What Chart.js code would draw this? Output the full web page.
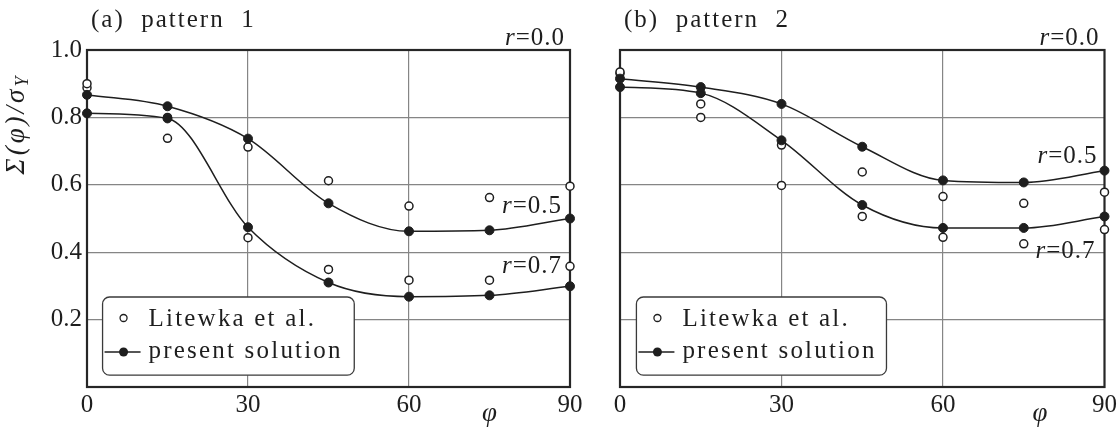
<!DOCTYPE html>
<html>

<head>
    <meta charset="utf-8">
    <title>Sigma(phi) / sigma Y - pattern 1 and pattern 2</title>
    <style>
        body { margin: 0; background: #fff; }
        .panel { position: absolute; top: 0; }
    </style>
</head>

<body>
    <div class="panel" style="left:0"><canvas id="chartA" width="590" height="430"></canvas></div>
    <div class="panel" style="left:590px"><canvas id="chartB" width="530" height="430"></canvas></div>
    <script src="https://cdn.jsdelivr.net/npm/chart.js@4.4.6/dist/chart.umd.min.js"></script>
    <script>
        // angle phi (deg) at which both data sets are given
        const angles = [0, 15, 30, 45, 60, 75, 90]

        // (a) pattern 1
        const aPresent05 = [0.867, 0.833, 0.737, 0.545, 0.462, 0.465, 0.500]
        const aPresent07 = [0.812, 0.797, 0.474, 0.310, 0.268, 0.272, 0.299]
        const aLitewka05 = [0.900, 0.800, 0.712, 0.612, 0.537, 0.562, 0.596]
        const aLitewka07 = [0.888, 0.738, 0.443, 0.349, 0.317, 0.317, 0.358]

        // (b) pattern 2
        const bPresent05 = [0.915, 0.890, 0.840, 0.713, 0.613, 0.607, 0.642]
        const bPresent07 = [0.890, 0.872, 0.732, 0.540, 0.472, 0.472, 0.506]
        const bLitewka05 = [0.935, 0.840, 0.718, 0.638, 0.565, 0.545, 0.578]
        const bLitewka07 = [0.930, 0.800, 0.598, 0.506, 0.444, 0.425, 0.467]

        const xTicks = [0, 30, 60, 90]
        const yTicks = [0, 0.2, 0.4, 0.6, 0.8, 1.0]
        const yLabels = ["", "0.2", "0.4", "0.6", "0.8", "1.0"]
        const legendLabels = ["Litewka et al.", "present solution"]

        const INK = "#1e1e1e"
        const GRID = "#858585"
        const SERIF = "'Liberation Serif', 'DejaVu Serif', serif"

        const pts = arr => angles.map((a, i) => ({ x: a, y: arr[i] }))

        function solution(arr) {
            return {
                label: legendLabels[1],
                data: pts(arr),
                showLine: true,
                borderColor: INK,
                borderWidth: 1.5,
                cubicInterpolationMode: "monotone",
                pointRadius: 4.5,
                pointBackgroundColor: INK,
                pointBorderColor: INK,
                pointBorderWidth: 1,
                clip: false,
            }
        }

        function litewka(arr) {
            return {
                label: legendLabels[0],
                data: pts(arr),
                showLine: false,
                pointRadius: 4,
                pointBackgroundColor: "#fff",
                pointBorderColor: INK,
                pointBorderWidth: 1.5,
                clip: false,
            }
        }

        // draws the frame, legend box and the text notes of one panel
        const decor = {
            id: "decor",
            beforeDatasetsDraw(chart) {
                const { ctx, chartArea: ca } = chart
                ctx.save()
                ctx.strokeStyle = "#262626"
                ctx.lineWidth = 2.2
                ctx.strokeRect(ca.left, ca.top, ca.right - ca.left, ca.bottom - ca.top)
                ctx.restore()
            },
            afterDatasetsDraw(chart, args, opts) {
                const { ctx, chartArea: ca } = chart
                const x = chart.scales.x
                const y = chart.scales.y
                ctx.save()
                ctx.fillStyle = INK
                ctx.strokeStyle = INK

                // legend
                const bx0 = x.getPixelForValue(opts.legendBox[0])
                const bx1 = x.getPixelForValue(opts.legendBox[1])
                const by0 = y.getPixelForValue(opts.legendBox[2])
                const by1 = y.getPixelForValue(opts.legendBox[3])
                ctx.beginPath()
                ctx.roundRect(bx0, by0, bx1 - bx0, by1 - by0, 7)
                ctx.fillStyle = "#fff"
                ctx.fill()
                ctx.lineWidth = 1.3
                ctx.strokeStyle = "#3a3a3a"
                ctx.stroke()
                const r1 = by0 + 21
                const r2 = by0 + 55
                ctx.beginPath()
                ctx.arc(bx0 + 21, r1, 3.5, 0, Math.PI * 2)
                ctx.fillStyle = "#fff"
                ctx.fill()
                ctx.strokeStyle = INK
                ctx.lineWidth = 1.3
                ctx.stroke()
                ctx.beginPath()
                ctx.moveTo(bx0 + 2, r2)
                ctx.lineTo(bx0 + 38, r2)
                ctx.lineWidth = 1.4
                ctx.stroke()
                ctx.beginPath()
                ctx.arc(bx0 + 21, r2, 4.5, 0, Math.PI * 2)
                ctx.fillStyle = INK
                ctx.fill()
                ctx.font = "25px " + SERIF
                ctx.letterSpacing = "2.2px"
                ctx.textBaseline = "alphabetic"
                ctx.textAlign = "left"
                ctx.fillText(legendLabels[0], bx0 + 46, r1 + 8)
                ctx.fillText(legendLabels[1], bx0 + 46, r2 + 6)

                // panel title
                ctx.font = "25px " + SERIF
                ctx.letterSpacing = "2px"
                ctx.fillText(opts.title, ca.left + 4, 27)

                // r = ... notes, right aligned near the right frame
                ctx.letterSpacing = "1px"
                opts.notes.forEach(n => {
                    ctx.font = "italic 25px " + SERIF
                    const w1 = ctx.measureText("r").width
                    ctx.font = "25px " + SERIF
                    const w2 = ctx.measureText(n.text).width
                    const xr = ca.right - n.dx
                    const yb = y.getPixelForValue(n.y)
                    ctx.font = "italic 25px " + SERIF
                    ctx.fillText("r", xr - w1 - w2, yb)
                    ctx.font = "25px " + SERIF
                    ctx.fillText(n.text, xr - w2, yb)
                })

                // phi axis label
                ctx.letterSpacing = "0px"
                ctx.font = "italic 27px " + SERIF
                ctx.textAlign = "center"
                ctx.textBaseline = "middle"
                ctx.fillText("φ", x.getPixelForValue(opts.phiAt), 414)

                // y axis title
                if (opts.yTitle) {
                    ctx.translate(17, 124)
                    ctx.rotate(-Math.PI / 2)
                    ctx.textAlign = "left"
                    ctx.letterSpacing = "3px"
                    ctx.font = "italic 27px " + SERIF
                    const main = "Σ(φ)/σ"
                    const wm = ctx.measureText(main).width
                    ctx.font = "italic 18px " + SERIF
                    const ws = ctx.measureText("Y").width
                    const x0 = -(wm + ws) / 2
                    ctx.font = "italic 27px " + SERIF
                    ctx.fillText(main, x0, 0)
                    ctx.font = "italic 18px " + SERIF
                    ctx.fillText("Y", x0 + wm, 6)
                }
                ctx.restore()
            },
        }

        function makeOptions(withLabels, padRight, yWidth, deco) {
            return {
                responsive: false,
                animation: false,
                layout: { padding: { left: 0, top: 50, right: padRight, bottom: 0 } },
                plugins: {
                    legend: { display: false },
                    tooltip: { enabled: false },
                    decor: deco,
                },
                scales: {
                    x: {
                        type: "linear",
                        min: 0,
                        max: 90,
                        afterBuildTicks: s => { s.ticks = xTicks.map(v => ({ value: v })) },
                        afterFit: s => { s.height = 43 },
                        border: { display: false },
                        grid: {
                            drawTicks: false,
                            lineWidth: 1.2,
                            color: c => (c.tick.value === 0 || c.tick.value === 90) ? "rgba(0,0,0,0)" : GRID,
                        },
                        ticks: {
                            padding: 3,
                            color: INK,
                            font: { family: SERIF, size: 25 },
                            maxRotation: 0,
                        },
                    },
                    y: {
                        min: 0,
                        max: 1,
                        afterBuildTicks: s => { s.ticks = yTicks.map(v => ({ value: v })) },
                        afterFit: s => { s.width = yWidth },
                        border: { display: false },
                        grid: {
                            drawTicks: false,
                            lineWidth: 1.2,
                            color: c => (c.tick.value === 0 || c.tick.value === 1) ? "rgba(0,0,0,0)" : GRID,
                        },
                        ticks: {
                            display: withLabels,
                            padding: 5,
                            color: INK,
                            font: { family: SERIF, size: 25 },
                            callback: (v, i) => yLabels[i],
                        },
                    },
                },
            }
        }

        document.addEventListener("DOMContentLoaded", () => {
            new Chart(document.getElementById("chartA"), {
                type: "scatter",
                data: {
                    datasets: [solution(aPresent05), solution(aPresent07), litewka(aLitewka05), litewka(aLitewka07)],
                },
                options: makeOptions(true, 20, 87, {
                    title: "(a)  pattern  1",
                    legendBox: [2.9, 49.8, 0.267, 0.035],
                    phiAt: 75,
                    yTitle: true,
                    notes: [
                        { text: "=0.0", y: 1.0 + 0.015, dx: 5 },
                        { text: "=0.5", y: 0.516, dx: 8 },
                        { text: "=0.7", y: 0.338, dx: 8 },
                    ],
                }),
                plugins: [decor],
            })
            new Chart(document.getElementById("chartB"), {
                type: "scatter",
                data: {
                    datasets: [solution(bPresent05), solution(bPresent07), litewka(bLitewka05), litewka(bLitewka07)],
                },
                options: makeOptions(false, 13, 30, {
                    title: "(b)  pattern  2",
                    legendBox: [3.05, 49.5, 0.267, 0.035],
                    phiAt: 78,
                    yTitle: false,
                    notes: [
                        { text: "=0.0", y: 1.0 + 0.015, dx: 5 },
                        { text: "=0.5", y: 0.665, dx: 7 },
                        { text: "=0.7", y: 0.383, dx: 9 },
                    ],
                }),
                plugins: [decor],
            })
        })
    </script>
</body>

</html>
